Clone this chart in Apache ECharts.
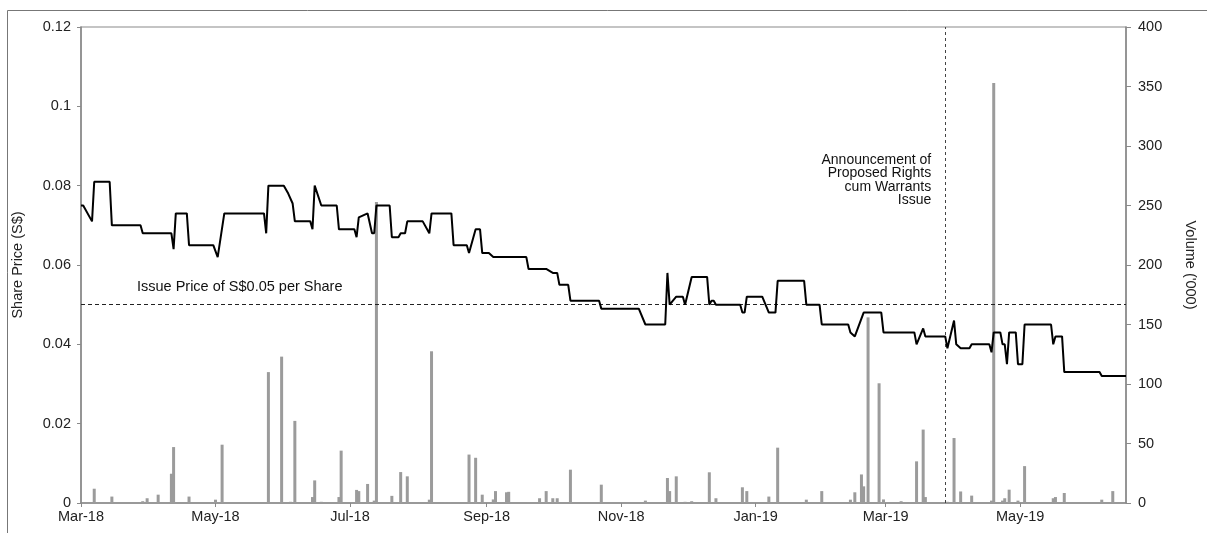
<!DOCTYPE html>
<html>
<head>
<meta charset="utf-8">
<script src="https://cdn.jsdelivr.net/npm/echarts@6/dist/echarts.min.js"></script>
<style>
html,body{margin:0;padding:0;background:#fff;}
#c{width:1207px;height:533px;}
</style>
</head>
<body>
<div id="c"></div>
<script>
// ---- Data ----
var priceDates = ['2018-03-01','2018-03-02','2018-03-06','2018-03-07','2018-03-14','2018-03-15','2018-03-28','2018-03-29','2018-04-11','2018-04-12','2018-04-13','2018-04-18','2018-04-19','2018-04-30','2018-05-02','2018-05-05','2018-05-23','2018-05-24','2018-05-25','2018-06-01','2018-06-03','2018-06-05','2018-06-06','2018-06-13','2018-06-14','2018-06-15','2018-06-18','2018-06-25','2018-06-26','2018-07-03','2018-07-04','2018-07-05','2018-07-09','2018-07-11','2018-07-12','2018-07-13','2018-07-19','2018-07-20','2018-07-23','2018-07-24','2018-07-26','2018-07-27','2018-08-03','2018-08-06','2018-08-07','2018-08-16','2018-08-17','2018-08-23','2018-08-24','2018-08-27','2018-08-29','2018-08-30','2018-09-02','2018-09-04','2018-09-19','2018-09-20','2018-09-28','2018-10-01','2018-10-03','2018-10-04','2018-10-08','2018-10-09','2018-10-22','2018-10-23','2018-11-09','2018-11-12','2018-11-21','2018-11-22','2018-11-23','2018-11-26','2018-11-29','2018-11-30','2018-12-03','2018-12-10','2018-12-11','2018-12-12','2018-12-13','2018-12-14','2018-12-25','2018-12-26','2018-12-27','2018-12-28','2019-01-04','2019-01-07','2019-01-10','2019-01-11','2019-01-23','2019-01-24','2019-01-30','2019-01-31','2019-02-12','2019-02-13','2019-02-15','2019-02-19','2019-02-27','2019-02-28','2019-03-14','2019-03-15','2019-03-18','2019-03-19','2019-03-28','2019-03-29','2019-04-01','2019-04-02','2019-04-04','2019-04-08','2019-04-09','2019-04-17','2019-04-18','2019-04-19','2019-04-22','2019-04-23','2019-04-24','2019-04-25','2019-04-26','2019-04-29','2019-04-30','2019-05-02','2019-05-03','2019-05-15','2019-05-16','2019-05-17','2019-05-20','2019-05-21','2019-06-06','2019-06-07','2019-06-18'];
var priceValues = [0.075,0.075,0.071,0.081,0.081,0.070,0.070,0.068,0.068,0.064,0.073,0.073,0.065,0.065,0.062,0.073,0.073,0.068,0.080,0.080,0.078,0.0755,0.071,0.071,0.069,0.080,0.075,0.075,0.069,0.069,0.067,0.072,0.073,0.068,0.068,0.075,0.075,0.067,0.067,0.068,0.068,0.071,0.071,0.068,0.073,0.073,0.065,0.065,0.063,0.069,0.069,0.063,0.063,0.062,0.062,0.059,0.059,0.058,0.058,0.055,0.055,0.051,0.051,0.049,0.049,0.045,0.045,0.058,0.050,0.052,0.052,0.050,0.057,0.057,0.050,0.051,0.051,0.050,0.050,0.048,0.048,0.052,0.052,0.048,0.048,0.056,0.056,0.050,0.050,0.045,0.045,0.043,0.042,0.048,0.048,0.043,0.043,0.040,0.044,0.042,0.042,0.039,0.046,0.040,0.039,0.039,0.040,0.040,0.038,0.043,0.043,0.040,0.040,0.035,0.043,0.043,0.035,0.035,0.045,0.045,0.040,0.042,0.042,0.033,0.033,0.032,0.032];

var volDates = ['2018-03-07','2018-03-15','2018-03-29','2018-03-31','2018-04-05','2018-04-11','2018-04-12','2018-04-19','2018-05-01','2018-05-04','2018-05-24','2018-05-25','2018-05-31','2018-06-04','2018-06-06','2018-06-14','2018-06-15','2018-06-18','2018-06-26','2018-06-27','2018-07-04','2018-07-05','2018-07-09','2018-07-12','2018-07-13','2018-07-20','2018-07-24','2018-07-27','2018-08-06','2018-08-07','2018-08-13','2018-08-15','2018-08-24','2018-08-27','2018-08-30','2018-09-04','2018-09-05','2018-09-10','2018-09-11','2018-09-20','2018-09-25','2018-09-28','2018-10-01','2018-10-03','2018-10-09','2018-10-23','2018-11-12','2018-11-22','2018-11-23','2018-11-26','2018-11-30','2018-12-03','2018-12-11','2018-12-14','2018-12-26','2018-12-28','2019-01-07','2019-01-11','2019-01-24','2019-01-31','2019-02-13','2019-02-15','2019-02-18','2019-02-19','2019-02-21','2019-02-26','2019-02-28','2019-03-08','2019-03-12','2019-03-15','2019-03-18','2019-03-19','2019-03-29','2019-04-01','2019-04-04','2019-04-09','2019-04-18','2019-04-19','2019-04-23','2019-04-24','2019-04-26','2019-04-30','2019-05-03','2019-05-16','2019-05-17','2019-05-21','2019-06-07','2019-06-12'];
var volValues = [12,5.4,1.5,4,7,24.6,47,5.4,2.8,49,0.5,110,123,1,69,5,19,1,5,44,11,10,16,2,253,6,26,22.4,2.8,127.5,0.5,0.5,40.7,38,7,3,10,9,9.4,0.5,4,10,4,4,28,15.4,2,21,10,22.4,1,1.5,25.8,4,13.2,10,5.4,46.5,2.8,10,2.8,9,24,14,156,100.6,3,1.5,0.5,35,61.7,5,1,54.6,9.7,6.2,2,353,2,4,11.2,2,31,4,5,8.4,2.8,10];

var tickDates = ['2018-03-01','2018-05-01','2018-07-01','2018-09-01','2018-11-01','2019-01-01','2019-03-01','2019-05-01'];
var tickLabels = ['Mar-18','May-18','Jul-18','Sep-18','Nov-18','Jan-19','Mar-19','May-19'];

var axisStart = '2018-03-01';
var axisEnd = '2019-06-18';
var issuePrice = 0.05;
var issueLabel = 'Issue Price of S$0.05 per Share';
var announceDate = '2019-03-28';
var announceLabel = 'Announcement of\nProposed Rights\ncum Warrants\nIssue';

// ---- Helpers ----
function ts(s){ var p = s.split('-'); return Date.UTC(+p[0], +p[1]-1, +p[2]); }
var tickTs = tickDates.map(ts);
var FONT = "'Liberation Sans', Arial, sans-serif";
var TXT = '#222';
var AX = '#8a8a8a';

var chart = echarts.init(document.getElementById('c'), null, {renderer:'canvas'});
chart.setOption({
  animation: false,
  backgroundColor: '#fff',
  textStyle: {fontFamily: FONT},
  graphic: [{
    type: 'rect', z: 100, silent: true,
    shape: {x: 7.5, y: 10.5, width: 1300, height: 700},
    style: {fill: 'none', stroke: '#777', lineWidth: 1}
  }],
  grid: {left: 81, right: 81, top: 27, bottom: 30, show: true, borderColor: AX, borderWidth: 1.2, containLabel: false, outerBoundsMode: 'none'},
  xAxis: {
    type: 'value',
    min: ts(axisStart), max: ts(axisEnd),
    axisLine: {show: true, lineStyle: {color: AX, width: 1.5}},
    axisTick: {show: true, length: 4, customValues: tickTs, lineStyle: {color: AX}},
    splitLine: {show: false},
    axisLabel: {
      customValues: tickTs,
      color: TXT, fontSize: 14.5, fontFamily: FONT, margin: 6,
      formatter: function(v){
        for (var i=0;i<tickTs.length;i++){ if (Math.abs(tickTs[i]-v) < 43200000) return tickLabels[i]; }
        return '';
      }
    }
  },
  yAxis: [{
    type: 'value', min: 0, max: 0.12, interval: 0.02, position: 'left',
    name: 'Share Price (S$)', nameLocation: 'middle', nameGap: 56, nameRotate: 90,
    nameTextStyle: {color: TXT, fontSize: 14.5, fontFamily: FONT},
    axisLine: {show: true, lineStyle: {color: AX, width: 1.5}},
    axisTick: {show: true, length: 4, lineStyle: {color: AX}},
    splitLine: {show: false},
    axisLabel: {color: TXT, fontSize: 14.5, fontFamily: FONT, margin: 10}
  }, {
    type: 'value', min: 0, max: 400, interval: 50, position: 'right',
    name: "Volume ('000)", nameLocation: 'middle', nameGap: 56, nameRotate: -90,
    nameTextStyle: {color: TXT, fontSize: 14.5, fontFamily: FONT},
    axisLine: {show: true, lineStyle: {color: AX, width: 1.5}},
    axisTick: {show: true, length: 5, lineStyle: {color: AX}},
    splitLine: {show: false},
    axisLabel: {color: TXT, fontSize: 14.5, fontFamily: FONT, margin: 12}
  }],
  series: [{
    name: 'Volume', type: 'bar', yAxisIndex: 1, barWidth: 3, z: 2,
    itemStyle: {color: '#9b9b9b'},
    data: volDates.map(function(d,i){ return [ts(d), volValues[i]]; })
  }, {
    name: 'Price', type: 'line', yAxisIndex: 0, z: 5,
    symbol: 'none', lineStyle: {color: '#000', width: 2}, itemStyle: {color: '#000'},
    data: priceDates.map(function(d,i){ return [ts(d), priceValues[i]]; }),
    markLine: {
      silent: true, symbol: ['none','none'],
      label: {show: false},
      data: [
        {yAxis: issuePrice, lineStyle: {color: '#222', type: [4,3], width: 1}},
        {xAxis: ts(announceDate), lineStyle: {color: '#444', type: [3,3], width: 1}}
      ]
    },
    markPoint: {
      silent: true, symbol: 'rect', symbolSize: 1,
      itemStyle: {color: 'rgba(255,255,255,0)'},
      data: [
        {coord: [ts('2018-05-12'), 0.0545], label: {show: true, position: 'inside', formatter: issueLabel, color: '#111', fontSize: 14.5, fontFamily: FONT, align: 'center', verticalAlign: 'middle'}},
        {coord: [ts(announceDate), 0.0814], label: {show: true, position: 'inside', formatter: announceLabel, color: '#111', fontSize: 14, lineHeight: 13.5, fontFamily: FONT, align: 'right', verticalAlign: 'middle', offset: [-14, 0]}}
      ]
    }
  }]
});
</script>
</body>
</html>
